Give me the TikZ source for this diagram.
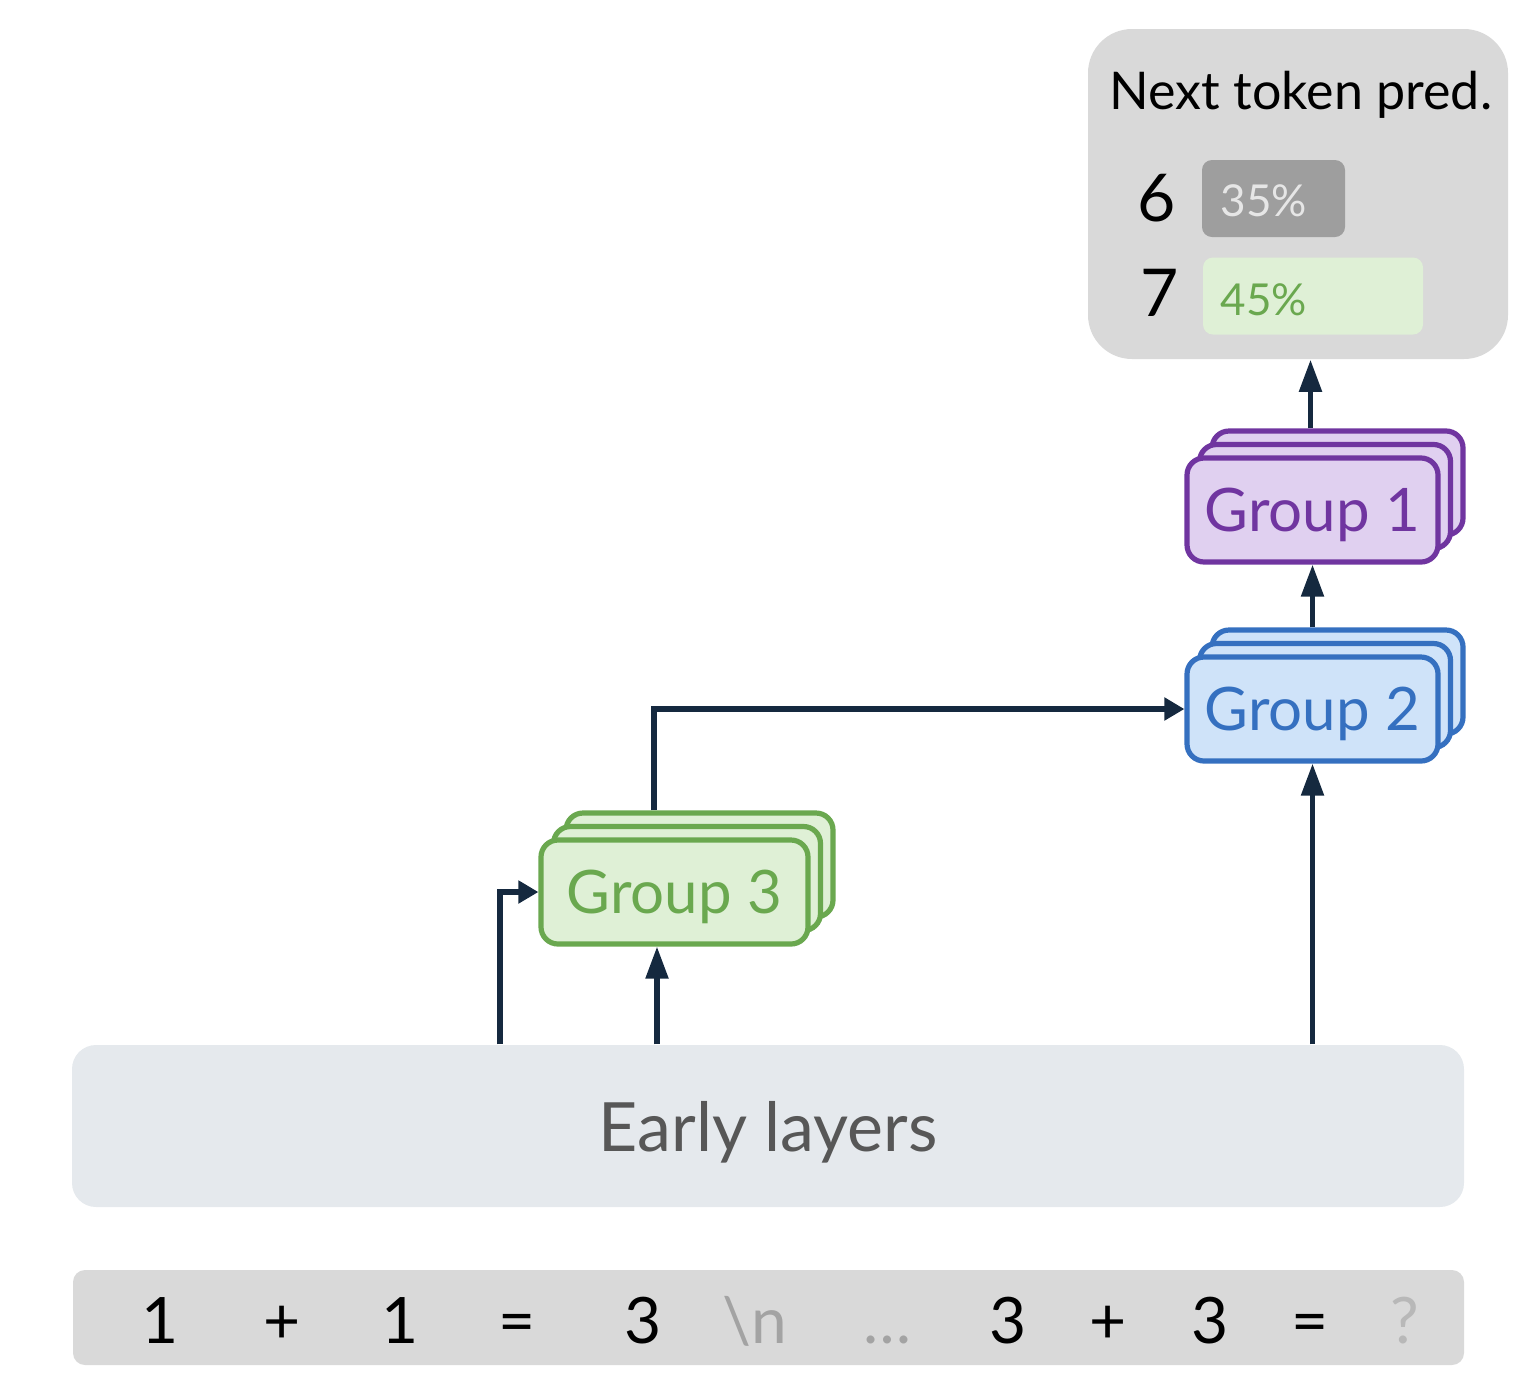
\documentclass[tikz,border=0pt]{standalone}
\usepackage{fontspec}
\setmainfont{Lato}
\usetikzlibrary{arrows.meta,shadows}

\definecolor{arrowcol}{HTML}{15293F}
\definecolor{predgray}{HTML}{D9D9D9}
\definecolor{bargray}{HTML}{9E9E9E}
\definecolor{bartext}{HTML}{E6E6E6}
\definecolor{greenline}{HTML}{6AA84F}
\definecolor{greenfill}{HTML}{DFF0D6}
\definecolor{purpleline}{HTML}{7035A0}
\definecolor{purplefill}{HTML}{E0D0F0}
\definecolor{blueline}{HTML}{3570C0}
\definecolor{bluefill}{HTML}{CFE3F9}
\definecolor{earlyfill}{HTML}{E5E9ED}
\definecolor{earlytext}{HTML}{575757}
\definecolor{tokdim}{HTML}{A3A3A3}
\definecolor{toklight}{HTML}{B8B8B8}

\tikzset{every picture/.style={line width=0.75pt}}

\begin{document}
\begin{tikzpicture}[x=0.5pt,y=0.5pt,yscale=-1,xscale=1,
	arrv/.style={draw=arrowcol,line width=2.6pt,-{Triangle[length=16pt,width=11pt]}},
	arrh/.style={draw=arrowcol,line width=2.6pt,-{Triangle[length=10pt,width=11pt]}},
	groupbox/.style={draw=#1line,fill=#1fill,text=#1line,line width=2.6pt,rounded corners=8.5pt,
		minimum width=125.5pt,minimum height=52pt,inner sep=0pt,text depth=0pt,font=\fontsize{30}{36}\selectfont,
		double copy shadow={shadow xshift=6.25pt,shadow yshift=6.75pt,draw=#1line,fill=#1fill,line width=2.6pt}},
	tok/.style={anchor=base,inner sep=0pt,font=\fontsize{32}{38}\selectfont},
	bar/.style={rounded corners=5pt,minimum height=38.5pt,inner sep=0pt}]
	\useasboundingbox (0,0) rectangle (1520,1388);
	
	%Rounded Rect (prediction panel)
	\draw (1298,194) node (pred) [fill=predgray,rounded corners=22pt,minimum width=210pt,minimum height=165pt,inner sep=0pt] {};
	% Text Node
	\draw (1301,109) node (predtitle) [anchor=base,inner sep=0pt,font=\fontsize{26}{31}\selectfont] {Next token pred.};
	%Rounded Rect (bars)
	\draw (1273.5,198.5) node (bar6) [bar,fill=bargray,minimum width=71.5pt] {};
	\draw (1313,296) node (bar7) [bar,fill=greenfill,minimum width=110pt] {};
	% Text Node
	\draw (1157,221) node (c6) [anchor=base,inner sep=0pt,font=\fontsize{33}{40}\selectfont] {6};
	\draw (1160,316) node (c7) [anchor=base,inner sep=0pt,font=\fontsize{33}{40}\selectfont] {7};
	\draw (1220,216) node (p6) [anchor=base west,inner sep=0pt,text=bartext,font=\fontsize{22}{26}\selectfont] {35\%};
	\draw (1220,315) node (p7) [anchor=base west,inner sep=0pt,text=greenline,font=\fontsize{22}{26}\selectfont] {45\%};
	
	%Stacked groups
	\draw (1312.5,510) node (g1) [groupbox=purple] {Group 1};
	\draw (1312.5,709) node (g2) [groupbox=blue] {Group 2};
	\draw (674.5,892) node (g3) [groupbox=green,minimum width=133.5pt] {Group 3};
	
	%Rounded Rect (early layers)
	\draw (768,1126) node (early) [fill=earlyfill,rounded corners=12pt,minimum width=696pt,minimum height=81pt,inner sep=0pt,text depth=0pt,text=earlytext,font=\fontsize{34}{41}\selectfont] {Early layers};
	%Rounded Rect (token row)
	\draw (768.5,1317.5) node (row) [fill=predgray,rounded corners=6pt,minimum width=695.5pt,minimum height=47.5pt,inner sep=0pt] {};
	
	% Text Node (tokens)
	\draw (160,1343) node (t1) [tok] {1};
	\draw (282,1343) node (t2) [tok] {+};
	\draw (400,1343) node (t3) [tok] {1};
	\draw (517,1343) node (t4) [tok] {=};
	\draw (643,1343) node (t5) [tok] {3};
	\draw (755,1343) node (t6) [tok,text=tokdim] {\textbackslash n};
	\draw (887,1343) node (t7) [tok,text=tokdim] {…};
	\draw (1008,1343) node (t8) [tok] {3};
	\draw (1108,1343) node (t9) [tok] {+};
	\draw (1210,1343) node (t10) [tok] {3};
	\draw (1310,1343) node (t11) [tok] {=};
	\draw (1405,1343) node (t12) [tok,text=toklight] {?};
	
	%Connectors
	\coordinate (g3top) at ([shift={(-20.5,-27)}]g3.north);
	\coordinate (g2top) at ([shift={(0,-27)}]g2.north);
	\coordinate (g1top) at ([shift={(-2,-27)}]g1.north);
	\draw [arrh] (early.north -| 500,0) |- (g3.west);
	\draw [arrv] (early.north -| 657,0) -- (g3.south -| 657,0);
	\draw [arrh] (g3top) |- (g2.west);
	\draw [arrv] (early.north -| g2.south) -- (g2.south);
	\draw [arrv] (g2top) -- (g1.south);
	\draw [arrv] (g1top) -- (g1top |- pred.south);
	
\end{tikzpicture}
\end{document}
